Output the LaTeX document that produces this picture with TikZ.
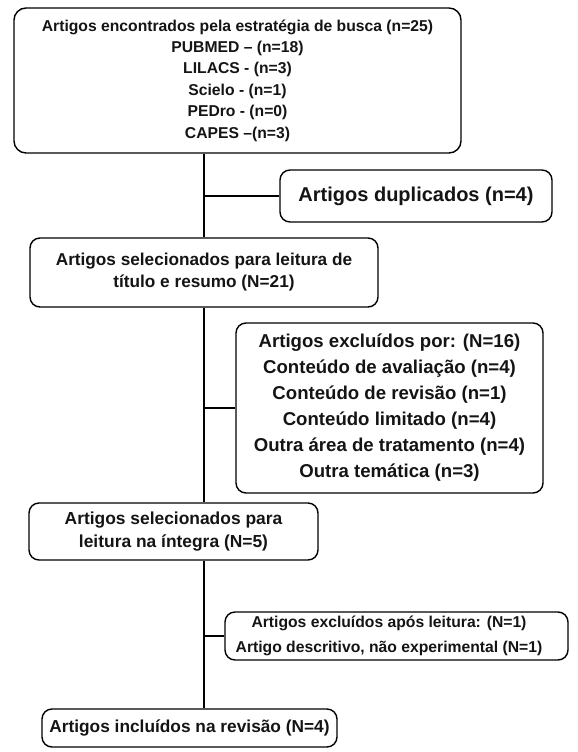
\documentclass[tikz,border=0pt]{standalone}
\usepackage{fontspec}
\setmainfont{Liberation Sans}
\begin{document}
\begin{tikzpicture}[x=1pt,y=-1pt,
  box/.style={draw=black, line width=1.4pt, rounded corners=10pt, align=center,
    inner sep=0pt, text=black!92, font=\bfseries},
  link/.style={draw=black, line width=2.8pt}]
\useasboundingbox (0,0) rectangle (578,752);
\node[box, minimum width=447pt, minimum height=145pt, rounded corners=12pt,
  font=\bfseries\fontsize{15.7}{21.4}\selectfont] (b1) at (237.5,80.5)
  {Artigos encontrados pela estratégia de busca (n=25)\\PUBMED – (n=18)\\LILACS - (n=3)\\Scielo - (n=1)\\PEDro - (n=0)\\CAPES –(n=3)};
\node[box, minimum width=272pt, minimum height=52pt,
  font=\bfseries\fontsize{20}{24}\selectfont] (dup) at (416,196)
  {Artigos duplicados (n=4)};
\node[box, minimum width=348pt, minimum height=69pt,
  font=\bfseries\fontsize{17.2}{22}\selectfont] (b2) at (204,272.5)
  {Artigos selecionados para leitura de\\título e resumo (N=21)};
\node[box, minimum width=307pt, minimum height=170pt,
  font=\bfseries\fontsize{18.6}{26}\selectfont] (ex1) at (389.5,408)
  {Artigos excluídos por: (N=16)\\Conteúdo de avaliação (n=4)\\Conteúdo de revisão (n=1)\\Conteúdo limitado (n=4)\\Outra área de tratamento (n=4)\\Outra temática (n=3)};
\node[box, minimum width=289pt, minimum height=57pt,
  font=\bfseries\fontsize{17.4}{23}\selectfont] (b3) at (173.5,531.5)
  {Artigos selecionados para\\leitura na íntegra (N=5)};
\node[box, minimum width=343pt, minimum height=48pt,
  font=\bfseries\fontsize{15.7}{25}\selectfont] (ex2) at (396.5,636)
  {Artigos excluídos após leitura: (N=1)\rule{15pt}{0pt}\\Artigo descritivo, não experimental (N=1)\rule{15pt}{0pt}};
\node[box, minimum width=295pt, minimum height=38pt,
  font=\bfseries\fontsize{17.3}{21}\selectfont] (b4) at (189.5,728)
  {Artigos incluídos na revisão (N=4)};
\coordinate (spine) at (204,0);
\draw[link] (b1.south -| spine) -- (b2.north -| spine);
\draw[link] (b2.south -| spine) -- (b3.north -| spine);
\draw[link] (b3.south -| spine) -- (b4.north -| spine);
\draw[link] (spine |- dup.west) -- (dup.west);
\draw[link] (spine |- ex1.west) -- (ex1.west);
\draw[link] (spine |- ex2.west) -- (ex2.west);
\end{tikzpicture}
\end{document}
